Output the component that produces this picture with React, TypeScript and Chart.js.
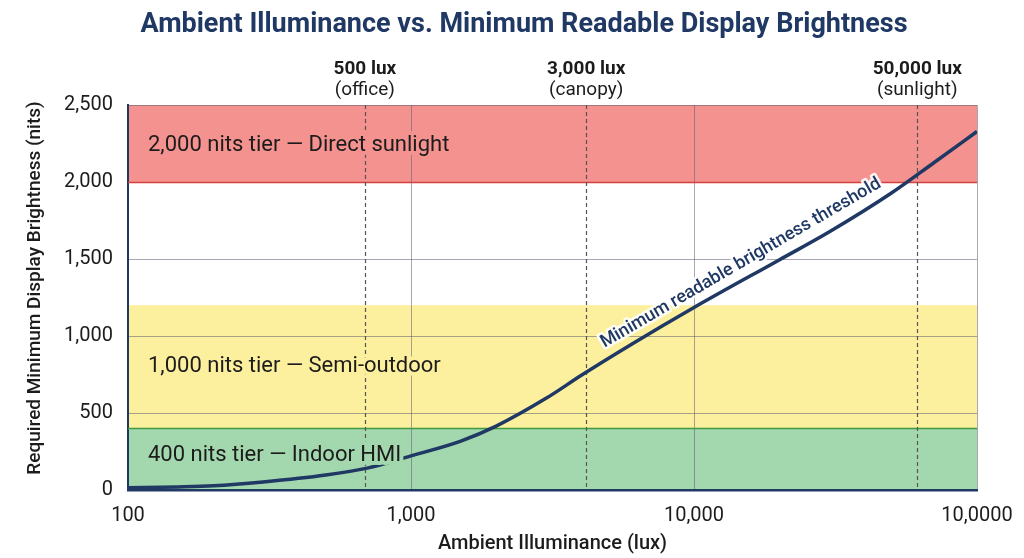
import { useEffect, useRef } from "react";
import { Chart, registerables } from "chart.js";
import type { Plugin } from "chart.js";

Chart.register(...registerables);

const NAVY = "#1f3864";
const INK = "#1c1c1c";
const FONT = "Roboto";

// curve (lux -> nits)
const luxValues = [100, 150, 200, 300, 500, 700, 1000, 1500, 2000, 3000, 4000, 6000, 10000, 20000, 30000, 50000, 70000, 100000];
const nitsValues = [15, 20, 27, 52, 97, 142, 222, 318, 415, 595, 745, 945, 1185, 1494, 1675, 1930, 2122, 2328];

const xTickValues = [100, 1000, 10000, 100000];
const xTickLabels = ["100", "1,000", "10,000", "10,0000"];

const tierNames = ["2,000 nits tier — Direct sunlight", "1,000 nits tier — Semi-outdoor", "400 nits tier — Indoor HMI"];
const tierLow = [2000, 400, 0];
const tierHigh = [2500, 1200, 400];
const tierLabelAt = [2240, 805, 225];
const tierFill = ["#f4928f", "#fcef9d", "#a3d7ae"];

const edgeValues = [2000, 400];
const edgeColors = ["#d4423f", "#3f9a43"];

// the reference draws its markers at these positions on the lux axis
const markerLux = [687, 4160, 61500];
const markerTitle = ["500 lux", "3,000 lux", "50,000 lux"];
const markerNote = ["(office)", "(canopy)", "(sunlight)"];

const curveLabel = "Minimum readable brightness threshold";
const yTitle = "Required Minimum Display Brightness (nits)";

const decor: Plugin<"line"> = {
  id: "decor",
  beforeDraw(chart) {
    const { ctx, chartArea: a } = chart;
    const y = chart.scales.y;
    ctx.save();
    tierLow.forEach((lo, i) => {
      const top = y.getPixelForValue(tierHigh[i]);
      const bottom = y.getPixelForValue(lo);
      ctx.fillStyle = tierFill[i];
      ctx.fillRect(a.left, top, a.right - a.left, bottom - top);
    });
    ctx.restore();
  },
  beforeDatasetsDraw(chart) {
    const { ctx, chartArea: a } = chart;
    const { x, y } = chart.scales;
    ctx.save();
    edgeValues.forEach((v, i) => {
      const py = Math.round(y.getPixelForValue(v)) + 0.5;
      ctx.strokeStyle = edgeColors[i];
      ctx.lineWidth = 1.3;
      ctx.beginPath();
      ctx.moveTo(a.left, py);
      ctx.lineTo(a.right, py);
      ctx.stroke();
    });
    ctx.strokeStyle = "#555";
    ctx.lineWidth = 1.2;
    ctx.setLineDash([4, 3]);
    markerLux.forEach((lux) => {
      const px = Math.round(x.getPixelForValue(lux)) + 0.5;
      ctx.beginPath();
      ctx.moveTo(px, a.top);
      ctx.lineTo(px, a.bottom);
      ctx.stroke();
    });
    ctx.restore();
  },
  afterDatasetsDraw(chart) {
    const { ctx, chartArea: a } = chart;
    const { x, y } = chart.scales;
    ctx.save();

    // tier labels, with a halo in the band colour
    ctx.font = `400 22px ${FONT}`;
    ctx.textAlign = "left";
    ctx.textBaseline = "middle";
    ctx.lineJoin = "round";
    tierNames.forEach((name, i) => {
      const py = y.getPixelForValue(tierLabelAt[i]);
      ctx.strokeStyle = tierFill[i];
      ctx.lineWidth = 8;
      ctx.strokeText(name, a.left + 20, py);
      ctx.fillStyle = INK;
      ctx.fillText(name, a.left + 20, py);
    });

    // label along the curve
    const pts = chart.getDatasetMeta(0).data;
    const p0 = pts[11];
    const p1 = pts[15];
    const ang = Math.atan2(p1.y - p0.y, p1.x - p0.x);
    const t = 0.45;
    const cx = p0.x + (p1.x - p0.x) * t;
    const cy = p0.y + (p1.y - p0.y) * t;
    ctx.translate(cx, cy);
    ctx.rotate(ang);
    ctx.font = `500 18px ${FONT}`;
    ctx.textAlign = "center";
    ctx.textBaseline = "bottom";
    ctx.strokeStyle = "rgba(255,255,255,0.9)";
    ctx.lineWidth = 5;
    ctx.strokeText(curveLabel, 0, -6);
    ctx.fillStyle = NAVY;
    ctx.fillText(curveLabel, 0, -6);
    ctx.setTransform(1, 0, 0, 1, 0, 0);
    ctx.restore();

    ctx.save();
    // marker captions above the plot
    ctx.textAlign = "center";
    ctx.textBaseline = "middle";
    ctx.fillStyle = INK;
    markerLux.forEach((lux, i) => {
      const px = x.getPixelForValue(lux);
      ctx.font = `700 19px ${FONT}`;
      ctx.fillText(markerTitle[i], px, 69);
      ctx.font = `400 19px ${FONT}`;
      ctx.fillText(markerNote[i], px, 90);
    });

    // y axis title
    ctx.save();
    ctx.translate(35, 288);
    ctx.rotate(-Math.PI / 2);
    ctx.font = `500 19px ${FONT}`;
    ctx.fillText(yTitle, 0, 0);
    ctx.restore();

    // chart title
    ctx.font = `700 27px ${FONT}`;
    ctx.fillStyle = NAVY;
    ctx.fillText("Ambient Illuminance vs. Minimum Readable Display Brightness", 524, 25);
    ctx.restore();
  },
};

export default function App() {
  const canvasRef = useRef<HTMLCanvasElement | null>(null);

  useEffect(() => {
    if (!canvasRef.current) return;
    Chart.defaults.font.family = FONT;

    const chart = new Chart(canvasRef.current, {
      type: "line",
      data: {
        datasets: [
          {
            label: curveLabel,
            data: luxValues.map((lux, i) => ({ x: lux, y: nitsValues[i] })),
            borderColor: NAVY,
            borderWidth: 3.5,
            pointRadius: 0,
            cubicInterpolationMode: "monotone",
            fill: false,
          },
        ],
      },
      options: {
        animation: false,
        responsive: true,
        maintainAspectRatio: false,
        layout: { padding: { top: 105, right: 47, left: 0, bottom: 0 } },
        plugins: { legend: { display: false }, tooltip: { enabled: false } },
        scales: {
          x: {
            type: "logarithmic",
            min: 100,
            max: 100000,
            afterBuildTicks: (s) => {
              s.ticks = xTickValues.map((value) => ({ value }));
            },
            afterFit: (s) => {
              s.height = 68;
              s.paddingLeft = 0;
              s.paddingRight = 0;
            },
            ticks: {
              autoSkip: false,
              maxRotation: 0,
              padding: 14,
              color: INK,
              font: { size: 20 },
              callback: (_v, i) => xTickLabels[i],
            },
            grid: { color: "rgba(95,95,115,0.55)", lineWidth: 1, drawTicks: false },
            border: { display: true, color: NAVY, width: 2.5 },
            title: {
              display: true,
              text: "Ambient Illuminance (lux)",
              color: INK,
              font: { size: 20, weight: 500 },
              padding: { top: 0, bottom: 2 },
            },
          },
          y: {
            min: 0,
            max: 2500,
            afterFit: (s) => {
              s.width = 128;
            },
            ticks: {
              stepSize: 500,
              padding: 15,
              color: INK,
              font: { size: 20 },
              callback: (v) => Number(v).toLocaleString("en-US"),
            },
            grid: { color: "rgba(95,95,115,0.55)", lineWidth: 1, drawTicks: false },
            border: { display: true, color: NAVY, width: 2 },
            title: { display: false },
          },
        },
      },
      plugins: [decor],
    });

    return () => chart.destroy();
  }, []);

  return (
    <div style={{ position: "fixed", left: 0, top: 0, width: 1024, height: 558, background: "#fff" }}>
      <canvas ref={canvasRef} />
    </div>
  );
}
